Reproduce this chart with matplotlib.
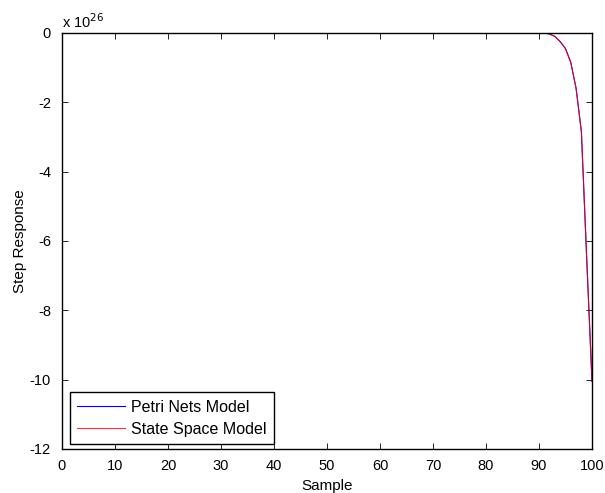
import matplotlib
matplotlib.use('Agg')
import matplotlib.pyplot as plt

plt.rcParams['font.family'] = ['Liberation Sans', 'DejaVu Sans']
plt.rcParams['font.size'] = 10
plt.rcParams['axes.unicode_minus'] = False

# step response, in units of 1e26
sample = [0, 91, 92, 93, 94, 95, 96, 97, 98, 99, 100]
petri_nets = [0.0, 0.0, -0.03, -0.1, -0.25, -0.45, -0.85, -1.6, -2.85, -6.5, -10.05]
state_space = [0.0, 0.0, -0.03, -0.1, -0.25, -0.45, -0.85, -1.6, -2.85, -6.5, -10.05]
xticks = list(range(0, 101, 10))
yticks = list(range(-12, 1, 2))

fig = plt.figure(figsize=(6.05, 4.93), dpi=100)
ax = fig.add_axes([62/605, 1 - 449/493, (592-62)/605, (449-33)/493])

ax.plot(sample, petri_nets, color='blue', lw=0.8, label='Petri Nets Model')
ax.plot(sample, state_space, color='red', lw=0.8, alpha=0.8, label='State Space Model')

ax.set_xlim(0, 100)
ax.set_ylim(-12, 0)
ax.set_xticks(xticks)
ax.set_yticks(yticks)
ax.tick_params(direction='in', top=True, right=True, length=4, width=0.6, labelsize=10.5)
ax.tick_params(axis='x', pad=7)
ax.tick_params(axis='y', pad=8)
for s in ax.spines.values():
    s.set_linewidth(1.0)

ax.set_xlabel('Sample', fontsize=11, labelpad=4.5)
ax.set_ylabel('Step Response', fontsize=11, labelpad=2)
ax.text(0, 1.006, r'x 10$^{26}$', transform=ax.transAxes, fontsize=10.5,
        ha='left', va='bottom')

leg = ax.legend(loc='lower left', bbox_to_anchor=(70/605, 49/493),
                bbox_transform=fig.transFigure, borderaxespad=0,
                fancybox=False, edgecolor='black', framealpha=1,
                handlelength=3.0, labelspacing=0.45, borderpad=0.45,
                handletextpad=0.4, fontsize=11.5)
leg.get_frame().set_linewidth(1.0)

fig.savefig('out.png', dpi=100)
